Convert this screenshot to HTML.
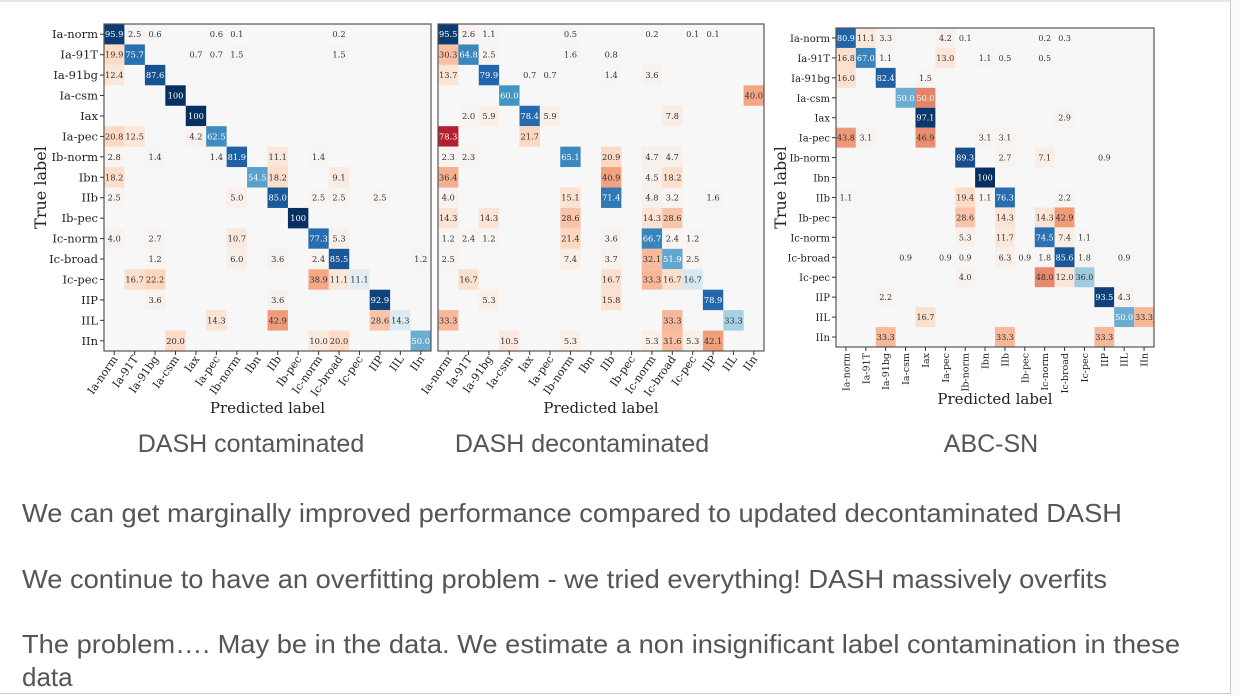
<!DOCTYPE html>
<html><head><meta charset="utf-8"><style>
html,body{margin:0;padding:0;background:#fff;width:1240px;height:696px;overflow:hidden}
svg{display:block}
</style></head><body>
<svg id="s" width="1240" height="696" xmlns="http://www.w3.org/2000/svg">
<rect x="1231" y="0" width="9" height="696" fill="#f8f9fa"/>
<line x1="0" y1="1" x2="1231" y2="1" stroke="#ccc"/>
<line x1="1230.5" y1="0" x2="1230.5" y2="694" stroke="#ccc"/>
<line x1="0" y1="693.5" x2="1231" y2="693.5" stroke="#ccc"/>
<g font-family="Liberation Sans, sans-serif" fill="#555">
<text x="251" y="452" font-size="25" text-anchor="middle">DASH contaminated</text>
<text x="582" y="452" font-size="25" text-anchor="middle">DASH decontaminated</text>
<text x="991" y="452" font-size="25" text-anchor="middle">ABC-SN</text>
<text x="22" y="522" font-size="26" textLength="1100" lengthAdjust="spacingAndGlyphs">We can get marginally improved performance compared to updated decontaminated DASH</text>
<text x="22" y="588" font-size="26" textLength="1085" lengthAdjust="spacingAndGlyphs">We continue to have an overfitting problem - we tried everything! DASH massively overfits</text>
<text x="22" y="653" font-size="26" textLength="1158" lengthAdjust="spacingAndGlyphs">The problem…. May be in the data. We estimate a non insignificant label contamination in these</text>
<text x="22" y="686" font-size="26">data</text>
</g>
</svg>
<script>
const labels=["Ia-norm","Ia-91T","Ia-91bg","Ia-csm","Iax","Ia-pec","Ib-norm","Ibn","IIb","Ib-pec","Ic-norm","Ic-broad","Ic-pec","IIP","IIL","IIn"];
// sparse entries: [row, col, value]
const dashContaminated=[
[0,0,95.9],[0,1,2.5],[0,2,0.6],[0,5,0.6],[0,6,0.1],[0,11,0.2],
[1,0,19.9],[1,1,75.7],[1,4,0.7],[1,5,0.7],[1,6,1.5],[1,11,1.5],
[2,0,12.4],[2,2,87.6],
[3,3,100],[4,4,100],
[5,0,20.8],[5,1,12.5],[5,4,4.2],[5,5,62.5],
[6,0,2.8],[6,2,1.4],[6,5,1.4],[6,6,81.9],[6,8,11.1],[6,10,1.4],
[7,0,18.2],[7,7,54.5],[7,8,18.2],[7,11,9.1],
[8,0,2.5],[8,6,5.0],[8,8,85.0],[8,10,2.5],[8,11,2.5],[8,13,2.5],
[9,9,100],
[10,0,4.0],[10,2,2.7],[10,6,10.7],[10,10,77.3],[10,11,5.3],
[11,2,1.2],[11,6,6.0],[11,8,3.6],[11,10,2.4],[11,11,85.5],[11,15,1.2],
[12,1,16.7],[12,2,22.2],[12,10,38.9],[12,11,11.1],[12,12,11.1],
[13,2,3.6],[13,8,3.6],[13,13,92.9],
[14,5,14.3],[14,8,42.9],[14,13,28.6],[14,14,14.3],
[15,3,20.0],[15,10,10.0],[15,11,20.0],[15,15,50.0]];
const dashDecontaminated=[
[0,0,95.5],[0,1,2.6],[0,2,1.1],[0,6,0.5],[0,10,0.2],[0,12,0.1],[0,13,0.1],
[1,0,30.3],[1,1,64.8],[1,2,2.5],[1,6,1.6],[1,8,0.8],
[2,0,13.7],[2,2,79.9],[2,4,0.7],[2,5,0.7],[2,8,1.4],[2,10,3.6],
[3,3,60.0],[3,15,40.0],
[4,1,2.0],[4,2,5.9],[4,4,78.4],[4,5,5.9],[4,11,7.8],
[5,0,78.3],[5,4,21.7],
[6,0,2.3],[6,1,2.3],[6,6,65.1],[6,8,20.9],[6,10,4.7],[6,11,4.7],
[7,0,36.4],[7,8,40.9],[7,10,4.5],[7,11,18.2],
[8,0,4.0],[8,6,15.1],[8,8,71.4],[8,10,4.8],[8,11,3.2],[8,13,1.6],
[9,0,14.3],[9,2,14.3],[9,6,28.6],[9,10,14.3],[9,11,28.6],
[10,0,1.2],[10,1,2.4],[10,2,1.2],[10,6,21.4],[10,8,3.6],[10,10,66.7],[10,11,2.4],[10,12,1.2],
[11,0,2.5],[11,6,7.4],[11,8,3.7],[11,10,32.1],[11,11,51.9],[11,12,2.5],
[12,1,16.7],[12,8,16.7],[12,10,33.3],[12,11,16.7],[12,12,16.7],
[13,2,5.3],[13,8,15.8],[13,13,78.9],
[14,0,33.3],[14,11,33.3],[14,14,33.3],
[15,3,10.5],[15,6,5.3],[15,10,5.3],[15,11,31.6],[15,12,5.3],[15,13,42.1]];
const abcSn=[
[0,0,80.9],[0,1,11.1],[0,2,3.3],[0,5,4.2],[0,6,0.1],[0,10,0.2],[0,11,0.3],
[1,0,16.8],[1,1,67.0],[1,2,1.1],[1,5,13.0],[1,7,1.1],[1,8,0.5],[1,10,0.5],
[2,0,16.0],[2,2,82.4],[2,4,1.5],
[3,3,50.0],[3,4,50.0],
[4,4,97.1],[4,11,2.9],
[5,0,43.8],[5,1,3.1],[5,4,46.9],[5,7,3.1],[5,8,3.1],
[6,6,89.3],[6,8,2.7],[6,10,7.1],[6,13,0.9],
[7,7,100],
[8,0,1.1],[8,6,19.4],[8,7,1.1],[8,8,76.3],[8,11,2.2],
[9,6,28.6],[9,8,14.3],[9,10,14.3],[9,11,42.9],
[10,6,5.3],[10,8,11.7],[10,10,74.5],[10,11,7.4],[10,12,1.1],
[11,3,0.9],[11,5,0.9],[11,6,0.9],[11,8,6.3],[11,9,0.9],[11,10,1.8],[11,11,85.6],[11,12,1.8],[11,14,0.9],
[12,6,4.0],[12,10,48.0],[12,11,12.0],[12,12,36.0],
[13,2,2.2],[13,13,93.5],[13,14,4.3],
[14,4,16.7],[14,14,50.0],[14,15,33.3],
[15,2,33.3],[15,8,33.3],[15,13,33.3]];

const NS="http://www.w3.org/2000/svg";
const svg=document.getElementById('s');
const stops=[[103,0,31],[178,24,43],[214,96,77],[244,165,130],[253,219,199],[247,247,247],[209,229,240],[146,197,222],[67,147,195],[33,102,172],[5,48,97]];
function rdbu(t){
  let p=(t+1)/2*10; let i=Math.min(9,Math.floor(p)); let f=p-i;
  const a=stops[i],b=stops[i+1];
  return 'rgb('+a.map((v,k)=>Math.round(v+(b[k]-v)*f)).join(',')+')';
}
function mk(tag,attrs,parent){const e=document.createElementNS(NS,tag);for(const k in attrs)e.setAttribute(k,attrs[k]);(parent||svg).appendChild(e);return e;}
const SERIF='DejaVu Serif, Liberation Serif, serif';

function drawMatrix(name,data,x0,y0,w,h,opt){
  const g=mk('g',{});
  
  
  const n=labels.length, cw=w/n, ch=h/n;
  const xs=c=>x0+c*cw, ys=r=>y0+r*ch;
  const bg=mk('rect',{x:x0,y:y0,width:w,height:h,fill:'#f7f7f7'},g);
  
  
  data.forEach(([r,c,v])=>{
    const t=(r===c?1:-1)*v/100;
    const cell=mk('rect',{x:xs(c),y:ys(r),width:cw,height:ch,fill:rdbu(t)},g);
    
    
    const tx=mk('text',{x:xs(c)+cw/2,y:ys(r)+ch/2+3,'font-size':opt.cfs,'font-family':SERIF,'text-anchor':'middle',fill:Math.abs(v)>=50?'#fff':'#333'},g);
    tx.textContent=v===100?'100':v.toFixed(1);
    
    
  });
  const fr=mk('rect',{x:x0,y:y0,width:w,height:h,fill:'none',stroke:'#555','stroke-width':1.2},g);
  
  
  labels.forEach((l,i)=>{
    mk('line',{x1:xs(i)+cw/2,x2:xs(i)+cw/2,y1:y0+h,y2:y0+h+4,stroke:'#333'},g);
    let tx;
    if(opt.rot90){
      const cx=xs(i)+cw/2+3.5, cy=y0+h+6;
      tx=mk('text',{x:cx,y:cy,'font-size':9.5,'font-family':SERIF,'text-anchor':'end',fill:'#222',transform:'rotate(-90 '+cx+' '+cy+')'},g);
    } else {
      const cx=xs(i)+cw/2+4, cy=y0+h+8;
      tx=mk('text',{x:cx,y:cy,'font-size':11,'font-family':SERIF,'text-anchor':'end',fill:'#222',transform:'rotate(-55 '+cx+' '+cy+')'},g);
    }
    tx.textContent=l;
    
    
    if(opt.ylabels){
      mk('line',{x1:x0-4,x2:x0,y1:ys(i)+ch/2,y2:ys(i)+ch/2,stroke:'#333'},g);
      const ty=mk('text',{x:x0-6,y:ys(i)+ch/2+4,'font-size':opt.rot90?10:11.5,'font-family':SERIF,'text-anchor':'end',fill:'#222'},g);
      ty.textContent=l;
      
      
    }
  });
  if(opt.ylabels){
    const yx=opt.ytx, yy=y0+h/2;
    const yt=mk('text',{x:yx,y:yy,'font-size':16,'font-family':SERIF,'text-anchor':'middle',fill:'#222',transform:'rotate(-90 '+yx+' '+yy+')'},g);
    yt.textContent='True label';
    
    
  }
  const xt=mk('text',{x:x0+w/2,y:opt.xty,'font-size':15,'font-family':SERIF,'text-anchor':'middle',fill:'#222'},g);
  xt.textContent='Predicted label';
  
  
}
drawMatrix('matrix-dash-contaminated',dashContaminated,104,24,327,327,{ylabels:true,ytx:46,xty:413,cfs:8.3});
drawMatrix('matrix-dash-decontaminated',dashDecontaminated,438,24,326,327,{ylabels:false,xty:413,cfs:8.3});
drawMatrix('matrix-abc-sn',abcSn,836,28,318,319,{ylabels:true,ytx:786,xty:404,rot90:true,cfs:8});
</script>
</body></html>
